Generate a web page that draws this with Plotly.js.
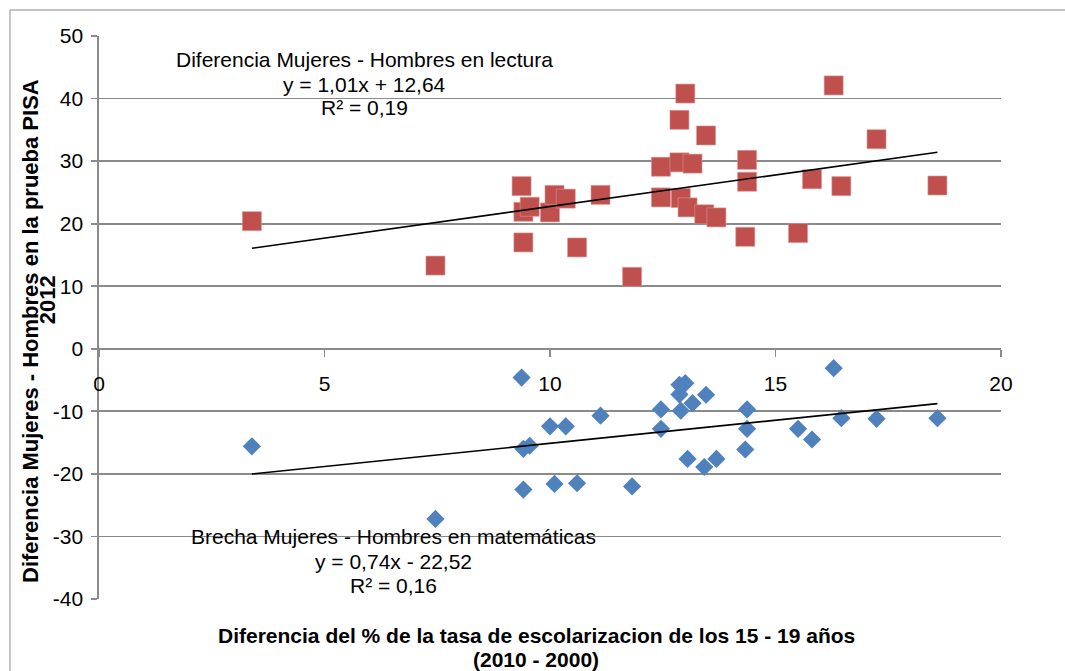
<!DOCTYPE html>
<html>
<head>
<meta charset="utf-8">
<script src="https://cdn.plot.ly/plotly-3.0.1.min.js"></script>
<style>
  html, body { margin: 0; padding: 0; background: #ffffff; }
  #chart { width: 1065px; height: 671px; }
</style>
</head>
<body>
<div id="chart"></div>
<script>
// Diferencia del % de la tasa de escolarización 15-19 años (2010 - 2000)
const escolarizacion = [3.39, 7.46, 9.37, 9.41, 9.41, 9.55, 10.0, 10.1, 10.35, 10.6, 11.12, 11.82,
  12.46, 12.46, 12.87, 12.87, 12.9, 13.0, 13.05, 13.16, 13.42, 13.46, 13.69, 14.33, 14.37, 14.37,
  15.5, 15.81, 16.29, 16.46, 17.24, 18.59];
// Diferencia Mujeres - Hombres en lectura (PISA 2012)
const lectura = [20.4, 13.3, 26.0, 21.9, 17.0, 22.7, 21.8, 24.6, 24.0, 16.2, 24.6, 11.5,
  29.1, 24.2, 36.6, 29.8, 24.1, 40.8, 22.6, 29.6, 21.5, 34.1, 21.0, 17.9, 30.2, 26.7,
  18.5, 27.1, 42.1, 26.0, 33.5, 26.1];
// Brecha Mujeres - Hombres en matemáticas (PISA 2012)
const matematicas = [-15.6, -27.2, -4.6, -16.0, -22.5, -15.5, -12.4, -21.6, -12.4, -21.5, -10.7, -22.0,
  -9.7, -12.8, -5.75, -7.3, -9.9, -5.5, -17.6, -8.7, -18.9, -7.35, -17.6, -16.1, -9.7, -12.8,
  -12.8, -14.5, -3.1, -11.1, -11.2, -11.1];
// Trendline coefficients shown on the chart [slope, intercept]
const ajusteLectura = [1.01, 12.64];
const ajusteMatematicas = [0.74, -22.52];
const etiquetaLectura = ["Diferencia Mujeres - Hombres en lectura", "y = 1,01x + 12,64", "R² = 0,19"];
const etiquetaMatematicas = ["Brecha Mujeres - Hombres en matemáticas", "y = 0,74x - 22,52", "R² = 0,16"];
const tituloX = ["Diferencia del % de la tasa de escolarizacion de los 15 - 19 años", "(2010 - 2000)"];
const tituloY = ["Diferencia Mujeres - Hombres en la prueba PISA", "2012"];
const xTicks = [0, 5, 10, 15, 20];
const yTicks = [-40, -30, -20, -10, 0, 10, 20, 30, 40, 50];

const xMin = Math.min(...escolarizacion), xMax = Math.max(...escolarizacion);
const fitX = [xMin, xMax];
const fit = (c) => fitX.map(x => c[0] * x + c[1]);

const FONT = "Liberation Sans, Arial, sans-serif";
const GRID = "#8a8a8a";

const traces = [
  { x: escolarizacion, y: matematicas, type: "scatter", mode: "markers", name: "matemáticas",
    marker: { symbol: "diamond", size: 14, color: "#4F81BD", line: { width: 0 } }, hoverinfo: "x+y" },
  { x: escolarizacion, y: lectura, type: "scatter", mode: "markers", name: "lectura",
    marker: { symbol: "square", size: 19, color: "#C0504D", line: { width: 0.6, color: "#d99593" } }, hoverinfo: "x+y" },
  { x: fitX, y: fit(ajusteLectura), type: "scatter", mode: "lines", line: { color: "#000", width: 1.6 }, hoverinfo: "skip" },
  { x: fitX, y: fit(ajusteMatematicas), type: "scatter", mode: "lines", line: { color: "#000", width: 1.6 }, hoverinfo: "skip" }
];

const yRange = [-40, 50];
const zeroPos = (0 - yRange[0]) / (yRange[1] - yRange[0]);

function lineAnn(text, x, y, size, extra) {
  return Object.assign({ x: x, y: y, xref: "x", yref: "y", xanchor: "center", yanchor: "middle",
    showarrow: false, text: text, font: { family: FONT, size: size, color: "#000" } }, extra || {});
}

const annotations = [];
const redY = [46.3, 42.3, 38.6];
etiquetaLectura.forEach((t, i) => annotations.push(lineAnn(t, 5.88, redY[i], 21)));
const blueY = [-30.05, -34.0, -37.85];
etiquetaMatematicas.forEach((t, i) => annotations.push(lineAnn(t, 6.52, blueY[i], 21)));
annotations.push(lineAnn("<b>" + tituloX[0] + "</b>", 0.4845, -0.064, 21, { xref: "paper", yref: "paper" }));
annotations.push(lineAnn("<b>" + tituloX[1] + "</b>", 0.4845, -0.108, 21, { xref: "paper", yref: "paper" }));
annotations.push(lineAnn("<b>" + tituloY[0] + "</b>", -0.0765, 0.476, 22, { xref: "paper", yref: "paper", textangle: -90 }));
annotations.push(lineAnn("<b>" + tituloY[1] + "</b>", -0.0575, 0.531, 22, { xref: "paper", yref: "paper", textangle: -90 }));

const layout = {
  width: 1065, height: 671,
  margin: { l: 99, r: 64, t: 36, b: 72, pad: 0 },
  paper_bgcolor: "#ffffff", plot_bgcolor: "#ffffff",
  showlegend: false,
  font: { family: FONT, color: "#000" },
  xaxis: {
    range: [0, 20], tickvals: xTicks, ticktext: xTicks.map(String),
    anchor: "free", position: zeroPos,
    showgrid: false, zeroline: false,
    showline: true, linecolor: GRID, linewidth: 1.7,
    ticks: "outside", ticklen: 7, tickwidth: 1.7, tickcolor: GRID,
    ticklabelstandoff: 8,
    tickfont: { family: FONT, size: 21, color: "#000" }
  },
  yaxis: {
    range: yRange, tickvals: yTicks, ticktext: yTicks.map(String),
    showgrid: true, gridcolor: GRID, gridwidth: 1.7,
    zeroline: false,
    showline: true, linecolor: GRID, linewidth: 1.7,
    ticks: "outside", ticklen: 6, tickwidth: 1.7, tickcolor: GRID,
    ticklabelstandoff: 4,
    tickfont: { family: FONT, size: 21, color: "#000" }
  },
  annotations: annotations,
  shapes: [
    { type: "rect", xref: "paper", yref: "paper", x0: -0.0987, x1: 1.075, y0: -0.2, y1: 1.0462,
      line: { color: "#8a8a8a", width: 1 }, fillcolor: "rgba(0,0,0,0)", layer: "below" }
  ]
};

Plotly.newPlot("chart", traces, layout, { displayModeBar: false, staticPlot: true });
</script>
</body>
</html>
